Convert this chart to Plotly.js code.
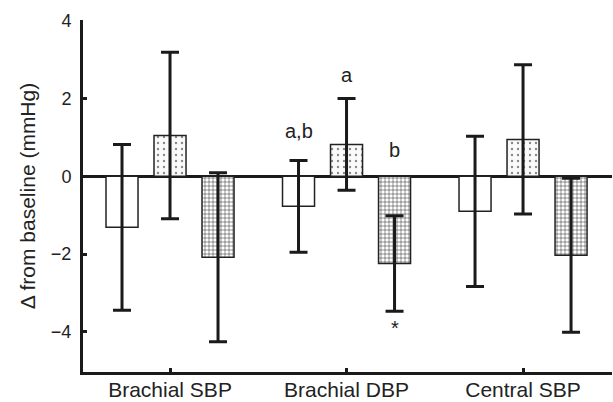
<!DOCTYPE html>
<html>
<head>
<meta charset="utf-8">
<script src="https://cdn.plot.ly/plotly-3.0.1.min.js"></script>
<style>html,body{margin:0;padding:0;background:#fff;}#chart{width:613px;height:402px;}</style>
</head>
<body>
<div id="chart"></div>
<script>
var categories = ["Brachial SBP", "Brachial DBP", "Central SBP"];
var whiteValues = [-1.31, -0.77, -0.90];
var whiteErrors = [2.13, 1.18, 1.93];
var dottedValues = [1.05, 0.82, 0.95];
var dottedErrors = [2.14, 1.18, 1.92];
var gridValues = [-2.08, -2.24, -2.03];
var gridErrors = [2.17, 1.23, 1.98];
var yTicks = [-4, -2, 0, 2, 4];

var errStyle = function(arr){ return {type:'data', array:arr, visible:true, color:'#1a1a1a', thickness:3, width:9}; };

var traces = [
  {type:'bar', x:categories, y:whiteValues, error_y:errStyle(whiteErrors),
   marker:{color:'#ffffff', line:{color:'#222', width:1.5}}},
  {type:'bar', x:categories, y:dottedValues, error_y:errStyle(dottedErrors),
   marker:{color:'#ffffff', line:{color:'#222', width:1.5},
           pattern:{shape:'.', size:6, solidity:0.12, fgcolor:'#888', bgcolor:'#fafafa'}}},
  {type:'bar', x:categories, y:gridValues, error_y:errStyle(gridErrors),
   marker:{color:'#ffffff', line:{color:'#222', width:1.5},
           pattern:{shape:'+', size:4, solidity:0.25, fgcolor:'#333', bgcolor:'#ffffff'}}}
];

var fam = 'Liberation Sans, Arial, sans-serif';
var layout = {
  width:613, height:402,
  margin:{l:83, r:1, t:20, b:30},
  paper_bgcolor:'#fff', plot_bgcolor:'#fff',
  barmode:'group', bargap:0.184, bargroupgap:0.333,
  showlegend:false,
  font:{family:fam, size:16, color:'#222'},
  xaxis:{type:'category', range:[-0.493, 2.504], showline:true, linecolor:'#1a1a1a', linewidth:3,
         ticks:'inside', ticklen:4, tickwidth:3, tickcolor:'#1a1a1a', showgrid:false, zeroline:false,
         tickfont:{family:fam, size:21, color:'#222'}, ticklabelstandoff:-3, fixedrange:true},
  yaxis:{range:[-5.03, 4.02], tickvals:yTicks, showline:true, linecolor:'#1a1a1a', linewidth:3,
         ticks:'inside', ticklen:4, tickwidth:3, tickcolor:'#1a1a1a', showgrid:false,
         zeroline:true, zerolinecolor:'#1a1a1a', zerolinewidth:3.5,
         tickfont:{family:fam, size:18, color:'#222'}, ticklabelstandoff:5,
         title:{text:'\u0394 from baseline (mmHg)', font:{family:fam, size:21, color:'#222'}, standoff:10}},
  annotations:[
    {xref:'x', yref:'y', x:'Brachial DBP', xshift:-48, y:1.16, text:'a,b', showarrow:false, font:{family:fam, size:20, color:'#222'}},
    {xref:'x', yref:'y', x:'Brachial DBP', xshift:0, y:2.6, text:'a', showarrow:false, font:{family:fam, size:20, color:'#222'}},
    {xref:'x', yref:'y', x:'Brachial DBP', xshift:48, y:0.68, text:'b', showarrow:false, font:{family:fam, size:20, color:'#222'}},
    {xref:'x', yref:'y', x:'Brachial DBP', xshift:48, y:-3.9, text:'*', showarrow:false, font:{family:fam, size:20, color:'#222'}}
  ]
};
Plotly.newPlot('chart', traces, layout, {displayModeBar:false, staticPlot:true});
</script>
</body>
</html>
